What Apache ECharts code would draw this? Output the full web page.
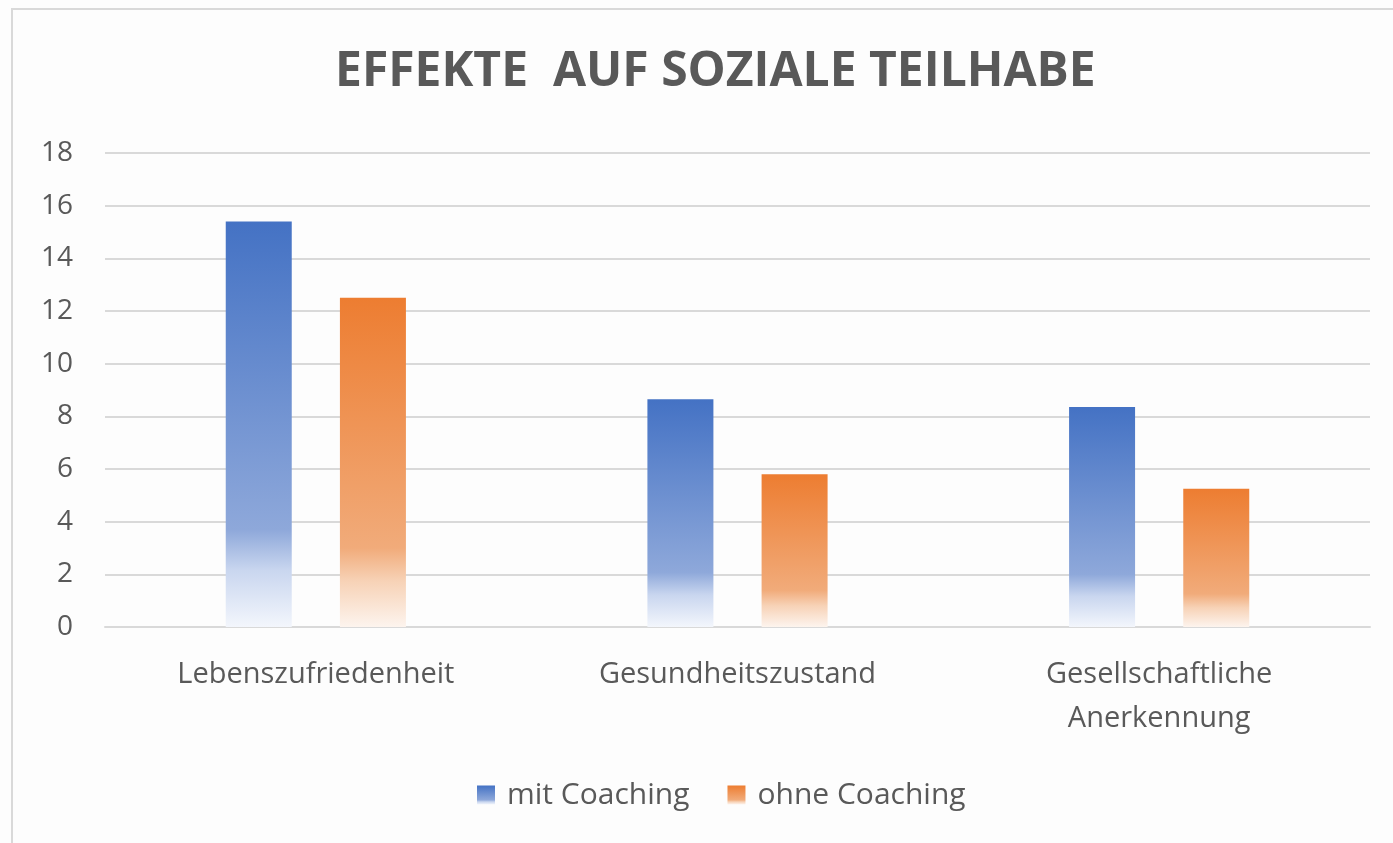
<!DOCTYPE html>
<html>
<head>
<meta charset="utf-8">
<script src="https://cdn.jsdelivr.net/npm/echarts@6/dist/echarts.min.js"></script>
<style>
  html, body { margin: 0; padding: 0; background: #fff; }
  #chart { width: 1393px; height: 843px; background: #fdfdfd; }
  #frame {
    position: absolute; left: 11px; top: 8px; width: 1500px; height: 1000px;
    border: 2px solid #d9d9d9; pointer-events: none;
  }
</style>
</head>
<body>
<div id="chart"></div>
<div id="frame"></div>
<script>
const categories = ["Lebenszufriedenheit", "Gesundheitszustand", "Gesellschaftliche\nAnerkennung"];
const mitCoaching = [15.4, 8.65, 8.35];
const ohneCoaching = [12.5, 5.8, 5.25];
const seriesNames = ["mit Coaching", "ohne Coaching"];

function fade(top, mid, low, bottom) {
  // Verlauf von oben (kräftig) nach unten (fast weiß)
  return new echarts.graphic.LinearGradient(0, 0, 0, 1, [
    { offset: 0, color: top },
    { offset: 0.76, color: mid },
    { offset: 0.86, color: low },
    { offset: 1, color: bottom }
  ]);
}

const chart = echarts.init(document.getElementById("chart"));
const labelFont = "'Open Sans', 'Noto Sans', sans-serif";

const option = {
  backgroundColor: "#fdfdfd",
  animation: false,
  title: {
    text: "EFFEKTE  AUF SOZIALE TEILHABE",
    left: 330,
    top: 43,
    textStyle: {
      fontFamily: labelFont,
      fontWeight: "bold",
      fontSize: 48,
      color: "#595959"
    }
  },
  legend: {
    top: 775,
    left: 472,
    itemWidth: 18,
    itemHeight: 19,
    itemGap: 38,
    data: [
      { name: seriesNames[0], icon: "rect" },
      { name: seriesNames[1], icon: "rect" }
    ],
    textStyle: { fontFamily: labelFont, fontSize: 30, color: "#595959", padding: [0, 0, 0, 7] }
  },
  grid: { left: 105, right: 23, top: 153, bottom: 216, containLabel: false },
  xAxis: {
    type: "category",
    data: categories,
    axisLine: { lineStyle: { color: "#d9d9d9", width: 2 } },
    axisTick: { show: false },
    axisLabel: {
      fontFamily: labelFont,
      fontSize: 29,
      color: "#595959",
      margin: 26,
      lineHeight: 44
    }
  },
  yAxis: {
    type: "value",
    min: 0,
    max: 18,
    interval: 2,
    axisLine: { show: false },
    axisTick: { show: false },
    splitLine: { lineStyle: { color: "#d9d9d9", width: 2 } },
    axisLabel: {
      fontFamily: labelFont,
      fontSize: 28,
      color: "#595959",
      margin: 32
    }
  },
  series: [
    {
      name: seriesNames[0],
      type: "bar",
      data: mitCoaching,
      barWidth: 66,
      barGap: "73%",
      itemStyle: { color: fade("#4472c4", "#8ea8da", "#c9d6ef", "#f3f6fc") }
    },
    {
      name: seriesNames[1],
      type: "bar",
      data: ohneCoaching,
      barWidth: 66,
      barGap: "73%",
      itemStyle: { color: fade("#ed7d31", "#f1ab7a", "#f7d2b6", "#fdf4ee") }
    }
  ]
};
chart.setOption(option);
</script>
</body>
</html>
